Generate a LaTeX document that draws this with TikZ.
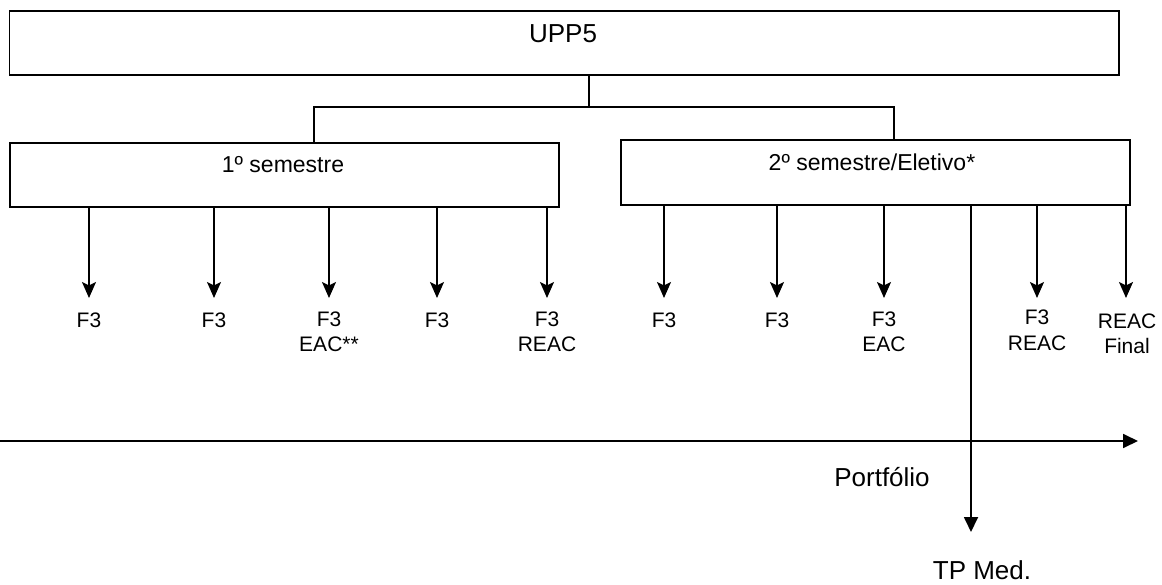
\documentclass[tikz,border=0pt]{standalone}
\usepackage{fontspec}
\setmainfont{Liberation Sans}
\usetikzlibrary{arrows.meta}
\begin{document}
\begin{tikzpicture}[x=1pt,y=-1pt,
  box/.style={draw, line width=1.8pt, inner sep=0pt, anchor=north west},
  conn/.style={line width=1.7pt},
  arr/.style={line width=1.8pt, -{Stealth[length=16pt, width=14pt, inset=3.5pt]}},
  bigarr/.style={line width=1.8pt, -{Triangle[length=15pt, width=14pt]}},
  lab/.style={anchor=base, align=center, inner sep=0pt, font=\fontsize{21}{25}\selectfont},
  semtxt/.style={anchor=base, inner sep=0pt, font=\fontsize{23}{27}\selectfont},
  bigtxt/.style={anchor=base, inner sep=0pt, font=\fontsize{26}{30}\selectfont}]
\useasboundingbox (0,0) rectangle (1162,585);

% boxes
\node[box, minimum width=1109.5pt, minimum height=64pt] (upp) at (8.5,10) {};
\node[box, minimum width=549.3pt, minimum height=64pt] (s1) at (8.7,142) {};
\node[box, minimum width=509pt, minimum height=65pt] (s2) at (620,139) {};

\node[bigtxt] (tupp) at (563,43) {UPP5};
\node[semtxt] (ts1) at (283,173) {1º semestre};
\node[semtxt] (ts2) at (872,171) {2º semestre/Eletivo*};

% tree connectors
\coordinate (j) at (589,107);
\coordinate (jl) at (314,107);
\coordinate (jr) at (894,107);
\draw[conn] (upp.south -| j) -- (j);
\draw[conn] (s1.north -| jl) -- (jl) -- (jr) -- (s2.north -| jr);

% arrow ends
\coordinate (a1) at (89,298);
\coordinate (a2) at (214,298);
\coordinate (a3) at (329,298);
\coordinate (a4) at (437,298);
\coordinate (a5) at (547,298);
\coordinate (b1) at (664,298);
\coordinate (b2) at (777,298);
\coordinate (b3) at (884,298);
\coordinate (b4) at (1037,298);
\coordinate (b5) at (1126,298);
\coordinate (tp) at (971,532);

\foreach \c in {a1,a2,a3,a4,a5} \draw[arr] (s1.south -| \c) -- (\c);
\foreach \c in {b1,b2,b3,b4,b5} \draw[arr] (s2.south -| \c) -- (\c);
\draw[bigarr] (s2.south -| tp) -- (tp);

% labels (base = baseline of last line)
\node[lab] (l1) at (89,327) {F3};
\node[lab] (l2) at (214,327) {F3};
\node[lab] (l3) at (329,352) {F3\\EAC**};
\node[lab] (l4) at (437,327) {F3};
\node[lab] (l5) at (547,352) {F3\\REAC};
\node[lab] (m1) at (664,327) {F3};
\node[lab] (m2) at (777,327) {F3};
\node[lab] (m3) at (884,352) {F3\\EAC};
\node[lab] (m4) at (1037,350) {F3\\REAC};
\node[lab] (m5) at (1127,353) {REAC\\Final};

% timeline
\coordinate (tl0) at (0,441);
\coordinate (tl1) at (1138,441);
\draw[bigarr] (tl0) -- (tl1);

\node[bigtxt] (port) at (882,486) {Portfólio};
\node[bigtxt] (tpm) at (982,579) {TP Med.};
\end{tikzpicture}
\end{document}
